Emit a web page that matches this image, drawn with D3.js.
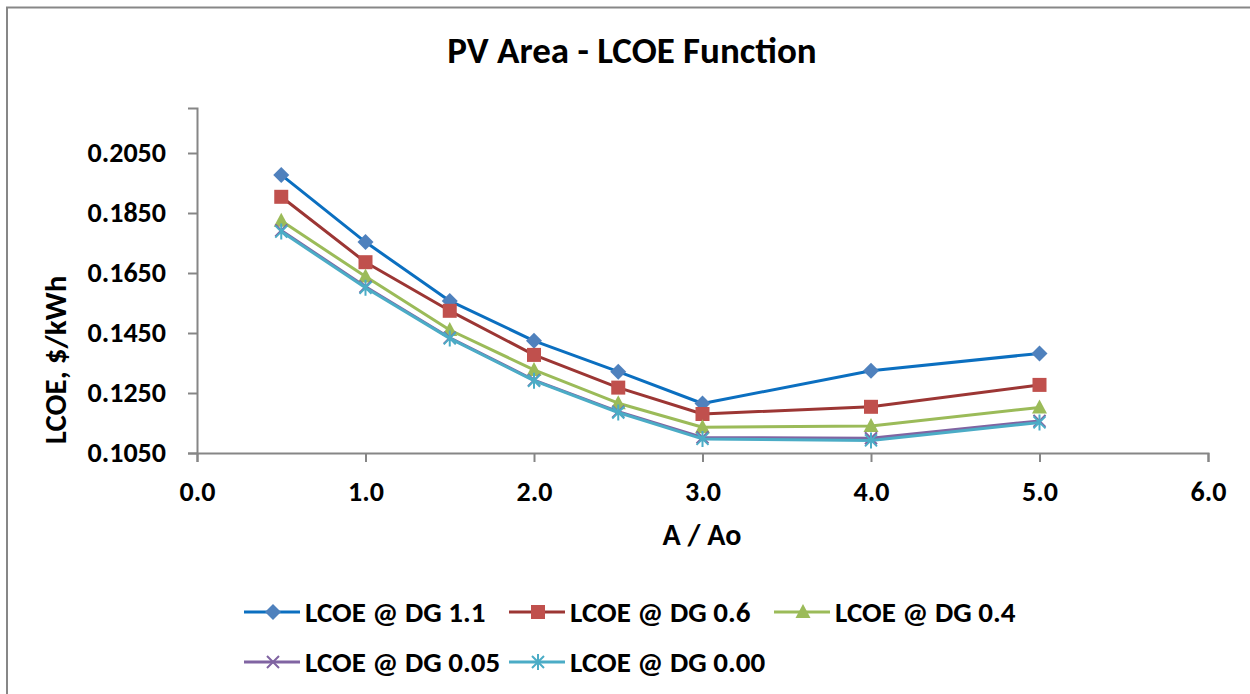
<!DOCTYPE html>
<html>
<head>
<meta charset="utf-8">
<script src="https://cdn.jsdelivr.net/npm/d3@7"></script>
<style>
  html, body { margin: 0; padding: 0; background: #fff; }
  svg { display: block; font-family: Carlito, "Open Sans", sans-serif; font-weight: bold; }
</style>
</head>
<body>
<div id="chart"></div>
<script>
// values
const areaRatio = [0.5, 1.0, 1.5, 2.0, 2.5, 3.0, 4.0, 5.0];
const lcoeDG11  = [0.1977, 0.1753, 0.1557, 0.1424, 0.1321, 0.1215, 0.1324, 0.1382];
const lcoeDG06  = [0.1904, 0.1686, 0.1524, 0.1377, 0.1268, 0.1180, 0.1204, 0.1277];
const lcoeDG04  = [0.1824, 0.1638, 0.1460, 0.1327, 0.1216, 0.1136, 0.1140, 0.1202];
const lcoeDG005 = [0.1792, 0.1604, 0.1434, 0.1293, 0.1188, 0.1102, 0.1099, 0.1157];
const lcoeDG000 = [0.1788, 0.1601, 0.1432, 0.1291, 0.1185, 0.1097, 0.1092, 0.1152];
const seriesNames = ["LCOE @ DG 1.1", "LCOE @ DG 0.6", "LCOE @ DG 0.4", "LCOE @ DG 0.05", "LCOE @ DG 0.00"];
const xTicks = [0, 1, 2, 3, 4, 5, 6];
const yTicks = [0.105, 0.125, 0.145, 0.165, 0.185, 0.205];

const width = 1250, height = 694;

const styles = [
  { line: "#0B6FC0", fill: "#4F81BD", marker: "diamond" },
  { line: "#9C3634", fill: "#C0504D", marker: "square" },
  { line: "#9BBB59", fill: "#9BBB59", marker: "triangle" },
  { line: "#8064A2", fill: "#8064A2", marker: "x" },
  { line: "#4BACC6", fill: "#4BACC6", marker: "star" }
];

const series = [lcoeDG11, lcoeDG06, lcoeDG04, lcoeDG005, lcoeDG000].map((vals, i) => ({
  name: seriesNames[i],
  style: styles[i],
  values: vals.map((v, j) => ({ x: areaRatio[j], y: v }))
}));

const svg = d3.select("#chart")
  .append("svg")
  .attr("width", width)
  .attr("height", height)
  .attr("viewBox", `0 0 ${width} ${height}`);

// chart frame (right and bottom edges fall outside the picture)
svg.append("rect")
  .attr("x", 7).attr("y", 7.5)
  .attr("width", 1260).attr("height", 700)
  .attr("fill", "none")
  .attr("stroke", "#878787")
  .attr("stroke-width", 2);

const x = d3.scaleLinear().domain([0, 6]).range([197, 1208]);
const y = d3.scaleLinear().domain([0.105, 0.22]).range([453, 108]);

svg.append("text")
  .attr("x", 632).attr("y", 63)
  .attr("text-anchor", "middle")
  .attr("font-size", 37)
  .attr("fill", "#000")
  .text("PV Area - LCOE Function");

// axes
const xAxis = svg.append("g")
  .attr("transform", `translate(0,${y(0.105)})`)
  .call(d3.axisBottom(x).tickValues(xTicks).tickFormat(d3.format(".1f")).tickSize(9).tickPadding(19));

const yAxis = svg.append("g")
  .attr("transform", `translate(${x(0)},0)`)
  .call(d3.axisLeft(y).tickValues(yTicks).tickFormat(d3.format(".4f")).tickSize(9).tickPadding(22));

[xAxis, yAxis].forEach(a => {
  a.select(".domain").attr("stroke", "#868686").attr("stroke-width", 2);
  a.selectAll(".tick line").attr("stroke", "#868686").attr("stroke-width", 2);
  a.selectAll(".tick text")
    .attr("fill", "#000")
    .attr("font-size", 28)
    .attr("font-weight", "bold")
    .attr("font-family", 'Carlito, "Open Sans", sans-serif');
});

svg.append("text")
  .attr("x", 702).attr("y", 545)
  .attr("text-anchor", "middle")
  .attr("font-size", 30)
  .text("A / Ao");

svg.append("text")
  .attr("transform", "translate(66,360) rotate(-90)")
  .attr("text-anchor", "middle")
  .attr("font-size", 31)
  .text("LCOE, $/kWh");

// marker drawing
function drawMarker(sel, kind, fill, stroke) {
  if (kind === "diamond") {
    sel.append("path").attr("d", "M0,-8L8,0L0,8L-8,0Z").attr("fill", fill);
  } else if (kind === "square") {
    sel.append("rect").attr("x", -7).attr("y", -7).attr("width", 14).attr("height", 14).attr("fill", fill);
  } else if (kind === "triangle") {
    sel.append("path").attr("d", "M0,-8L7.5,6L-7.5,6Z").attr("fill", fill);
  } else if (kind === "x") {
    sel.append("path").attr("d", "M-6,-6L6,6M-6,6L6,-6")
      .attr("stroke", stroke).attr("stroke-width", 2).attr("fill", "none");
  } else {
    sel.append("path").attr("d", "M-6,-6L6,6M-6,6L6,-6M0,-8L0,8")
      .attr("stroke", stroke).attr("stroke-width", 2).attr("fill", "none");
  }
}

const line = d3.line().x(d => x(d.x)).y(d => y(d.y));

const groups = svg.selectAll(".series")
  .data(series)
  .join("g")
  .attr("class", "series");

groups.append("path")
  .attr("fill", "none")
  .attr("stroke", d => d.style.line)
  .attr("stroke-width", 3)
  .attr("stroke-linejoin", "round")
  .attr("d", d => line(d.values));

groups.each(function (s) {
  d3.select(this).selectAll(".pt")
    .data(s.values)
    .join("g")
    .attr("class", "pt")
    .attr("transform", d => `translate(${x(d.x)},${y(d.y)})`)
    .each(function () { drawMarker(d3.select(this), s.style.marker, s.style.fill, s.style.line); });
});

// legend
const legend = svg.selectAll(".legend")
  .data(series)
  .join("g")
  .attr("class", "legend")
  .attr("transform", (d, i) => `translate(${244 + (i % 3) * 265},${612 + Math.floor(i / 3) * 50})`);

legend.append("line")
  .attr("x1", 0).attr("x2", 56)
  .attr("stroke", d => d.style.line)
  .attr("stroke-width", 3);

legend.each(function (s) {
  const m = d3.select(this).append("g").attr("transform", "translate(29,0)");
  drawMarker(m, s.style.marker, s.style.fill, s.style.line);
});

legend.append("text")
  .attr("x", 61)
  .attr("dy", "0.35em")
  .attr("font-size", 29)
  .text(d => d.name);
</script>
</body>
</html>
